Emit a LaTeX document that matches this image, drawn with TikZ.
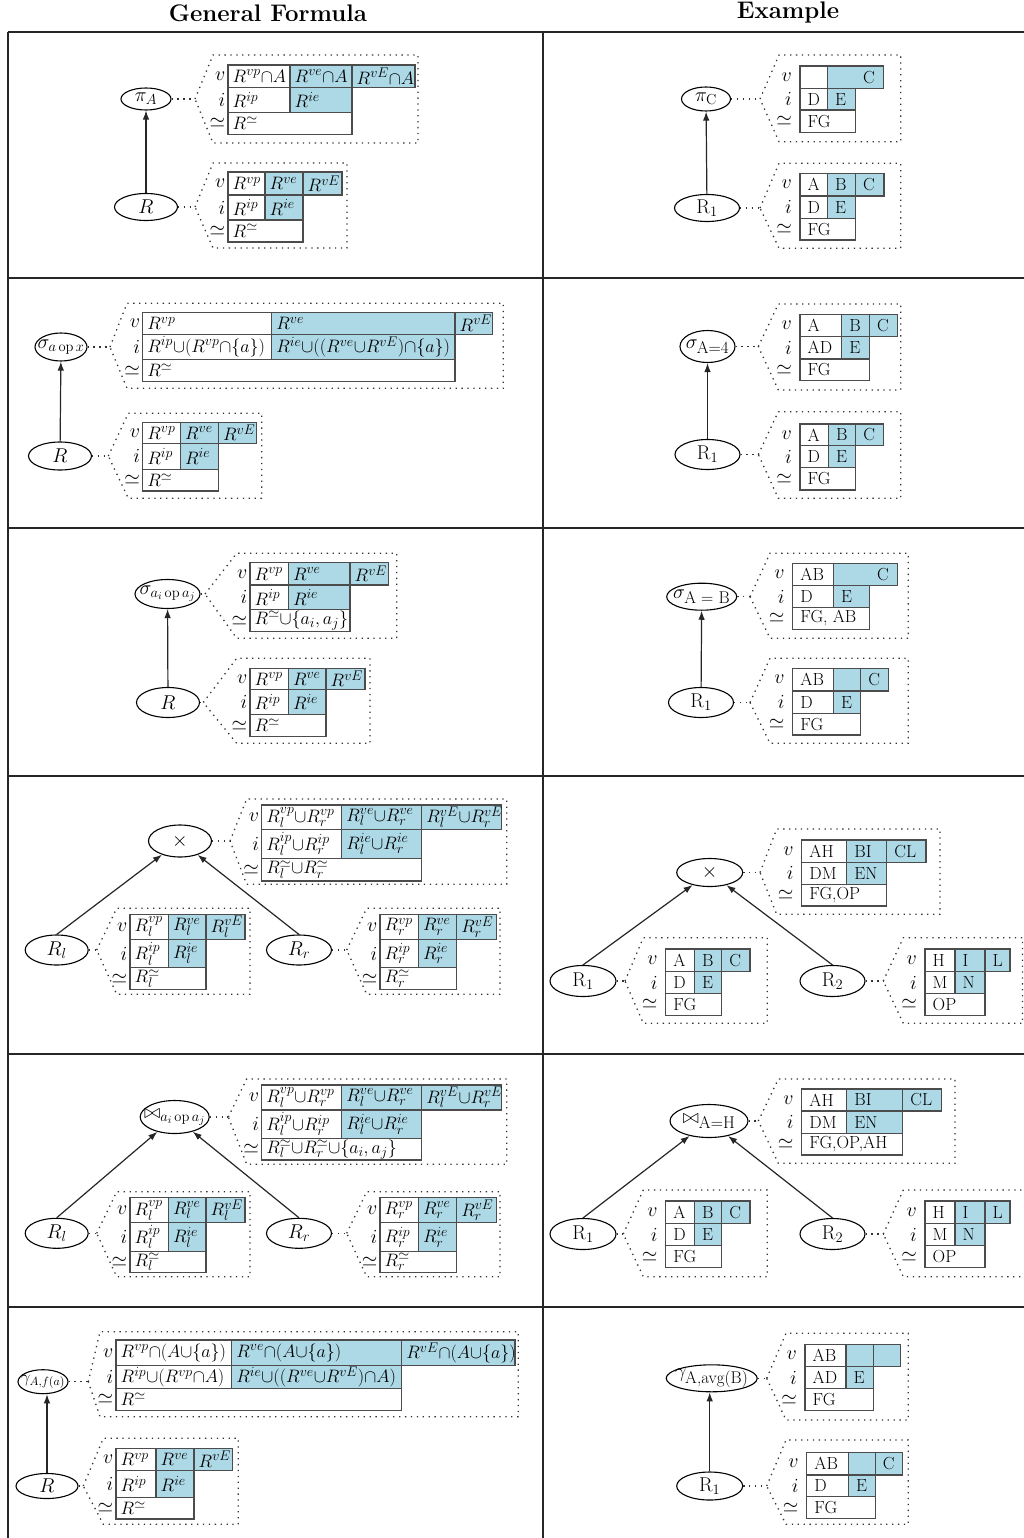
\RequirePackage{fix-cm}
\documentclass[tikz,border=0pt]{standalone}
\usetikzlibrary{shapes.geometric,arrows.meta}
\definecolor{cellblue}{RGB}{173,216,230}
\DeclareMathSizes{20}{20}{14.5}{10.5}
\DeclareMathSizes{18}{18}{14}{10}
\newcommand{\ucup}{{\cup}}
\newcommand{\ucap}{{\cap}}
\newcommand{\esub}[1]{\mbox{\fontsize{17}{20}\selectfont #1}}
\def\cellfont{\fontsize{18}{22}\selectfont}
\def\labfont{\fontsize{20}{24}\selectfont}
\def\nodefont{\fontsize{20}{24}\selectfont}
\def\cpad{4.5}
\def\lgap{2.5}
\newcommand{\tabgeom}[9]{%
  \def\tabpre{#1}%
  \pgfmathsetmacro\cxA{#2}\pgfmathsetmacro\cyA{#3}%
  \pgfmathsetmacro\cxB{#2+#4}\pgfmathsetmacro\cxC{\cxB+#5}\pgfmathsetmacro\cxD{\cxC+#6}%
  \pgfmathsetmacro\cyB{#3+#7}\pgfmathsetmacro\cyC{\cyB+#8}\pgfmathsetmacro\cyD{\cyC+#9}%
  \pgfmathsetmacro\cmA{(\cyA+\cyB)/2}\pgfmathsetmacro\cmB{(\cyB+\cyC)/2}\pgfmathsetmacro\cmC{(\cyC+\cyD)/2}%
}
\newcommand{\tabfill}[7][0]{%
  \fill[cellblue] (\cxB,\cyA) rectangle (\cxD,\cyB);
  \fill[cellblue] (\cxB,\cyB) rectangle (\cxC,\cyC);
  \draw[cellline] (\cxA,\cyA) rectangle (\cxB,\cyB);
  \ifnum#1=0
    \draw[cellline] (\cxB,\cyA) rectangle (\cxC,\cyB);
    \draw[cellline] (\cxC,\cyA) rectangle (\cxD,\cyB);
  \else
    \draw[cellline] (\cxB,\cyA) rectangle (\cxD,\cyB);
  \fi
  \draw[cellline] (\cxA,\cyB) rectangle (\cxB,\cyC);
  \draw[cellline] (\cxB,\cyB) rectangle (\cxC,\cyC);
  \draw[cellline] (\cxA,\cyC) rectangle (\cxC,\cyD);
  \node[celltext] (\tabpre-vp) at (\cxA+\cpad,\cmA) {#2};
  \node[celltext] (\tabpre-ve) at (\cxB+\cpad,\cmA) {#3};
  \node[celltext] (\tabpre-vE) at (\cxC+\cpad,\cmA) {#4};
  \node[celltext] (\tabpre-ip) at (\cxA+\cpad,\cmB) {#5};
  \node[celltext] (\tabpre-ie) at (\cxB+\cpad,\cmB) {#6};
  \node[celltext] (\tabpre-sm) at (\cxA+\cpad,\cmC) {#7};
  \node[labtext] (\tabpre-lv) at (\cxA-\lgap,\cmA) {$v$};
  \node[labtext] (\tabpre-li) at (\cxA-\lgap,\cmB) {$i$};
  \node[labtext] (\tabpre-ls) at (\cxA-\lgap,\cmC) {$\simeq$};
}
\newcommand{\mkcallout}[8]{%
  \coordinate (#1) at (#3,#4);
  \draw[dotline] (#2.east) -- (#1);
  \draw[dotline] (#1) -- (#5,#6) -- (#7,#6) -- (#7,#8) -- (#5,#8) -- cycle;
}
\newcommand{\opnd}[5]{%
  \node[opnode, minimum width=#4pt, minimum height=#5pt] (#1) at (#2) {};
  \node[optext] (#1-t) at (#1) {#3};
}
\tikzset{
  frame/.style={line width=2.8pt, draw=black!85},
  opnode/.style={ellipse, draw=black, line width=1.1pt, inner sep=0pt},
  optext/.style={inner sep=0pt, font=\nodefont},
  conn/.style={-{Latex[length=9pt,width=6.5pt]}, line width=1.2pt, draw=black!85},
  dotline/.style={line width=1.3pt, dash pattern=on 1.3pt off 4.6pt, draw=black!80},
  cellline/.style={line width=1.2pt, draw=black!70},
  celltext/.style={anchor=west, inner sep=0pt, font=\cellfont},
  labtext/.style={anchor=east, inner sep=0pt, font=\labfont},
  head/.style={inner sep=0pt, font=\fontsize{24}{28}\selectfont\bfseries}
}
\begin{document}
\begin{tikzpicture}[x=1pt,y=-1pt]
\useasboundingbox (0,0) rectangle (1024,1538);
\fill[white] (0,0) rectangle (1024,1538);
% headers
\node[head] (hg) at (268,13) {General Formula};
\node[head] (he) at (788,13) {Example};
% frame
\draw[frame] (8,32) -- (1030,32);
\draw[frame] (8,32) -- (8,1545);
\draw[frame] (543,32) -- (543,1545);
\foreach \yy in {278,528,776,1054,1307} {\draw[frame] (8,\yy) -- (1030,\yy);}

%%%%%%%% GENERAL COLUMN
\def\cellfont{\fontsize{18}{22}\selectfont}
\def\cpad{4.5}\def\lgap{2.5}
% Row 1
\opnd{gpA}{146,99}{$\pi_A$}{50}{22}
\opnd{gR1}{146,207}{$R$}{63}{27}
\draw[conn] (gR1) -- (gpA);
\mkcallout{gc1t}{gpA}{195}{99}{213}{55}{418}{143}
\mkcallout{gc1b}{gR1}{195}{207}{213}{163}{347}{248}
\tabgeom{g1t}{228}{65}{62}{62}{63}{22.3}{25}{22}
\tabfill{$R^{vp}\ucap A$}{$R^{ve}\ucap A$}{$R^{vE}\ucap A$}{$R^{ip}$}{$R^{ie}$}{$R^{\simeq}$}
\tabgeom{g1b}{228}{172}{37}{38}{39}{23}{25}{22}
\tabfill{$R^{vp}$}{$R^{ve}$}{$R^{vE}$}{$R^{ip}$}{$R^{ie}$}{$R^{\simeq}$}
% Row 2
\opnd{gs2}{61,347}{$\sigma_{a\,\mathrm{op}\,x}$}{52}{28}
\opnd{gR2}{60,456}{$R$}{63}{28}
\draw[conn] (gR2) -- (gs2);
\mkcallout{gc2t}{gs2}{110}{347}{127}{303.3}{503.3}{388.3}
\mkcallout{gc2b}{gR2}{108.3}{456}{128.3}{413.3}{261.7}{498.3}
\tabgeom{g2t}{142.7}{312.3}{129}{183.3}{37.7}{22}{25}{22.3}
\tabfill{$R^{vp}$}{$R^{ve}$}{$R^{vE}$}{$R^{ip}\ucup(R^{vp}\ucap\{a\})$}{$R^{ie}\ucup((R^{ve}\ucup R^{vE})\ucap\{a\})$}{$R^{\simeq}$}
\tabgeom{g2b}{142.7}{422.3}{37.7}{38}{37.7}{21}{26}{21.7}
\tabfill{$R^{vp}$}{$R^{ve}$}{$R^{vE}$}{$R^{ip}$}{$R^{ie}$}{$R^{\simeq}$}
% Row 3
\opnd{gs3}{167.5,594}{$\sigma_{a_i\,\mathrm{op}\,a_j}$}{65}{29}
\opnd{gR3}{168,702.5}{$R$}{63}{30}
\draw[conn] (gR3) -- (gs3);
\mkcallout{gc3t}{gs3}{205}{594}{236.7}{553.3}{396.7}{638.3}
\mkcallout{gc3b}{gR3}{203.3}{702.5}{236.7}{658.3}{370}{743.3}
\tabgeom{g3t}{250}{562.7}{38.3}{61.7}{38.3}{22.3}{24.3}{22.3}
\tabfill{$R^{vp}$}{$R^{ve}$}{$R^{vE}$}{$R^{ip}$}{$R^{ie}$}{$R^{\simeq}\ucup\{a_i,a_j\}$}
\tabgeom{g3b}{250}{668.3}{38.3}{37.7}{39}{21}{25}{22.3}
\tabfill{$R^{vp}$}{$R^{ve}$}{$R^{vE}$}{$R^{ip}$}{$R^{ie}$}{$R^{\simeq}$}
% Row 4
\opnd{gx4}{180,841}{$\times$}{63}{32}
\opnd{gRl4}{56.7,950}{$R_l$}{63}{30}
\opnd{gRr4}{299,950}{$R_r$}{65}{30}
\draw[conn] (gRl4.north) -- (gx4);
\draw[conn] (gRr4.north) -- (gx4);
\mkcallout{gc4t}{gx4}{230}{841}{246.7}{799}{506.7}{884.3}
\mkcallout{gc4l}{gRl4}{96.7}{950}{116.7}{908.3}{250}{994.3}
\mkcallout{gc4r}{gRr4}{346.7}{950}{366.7}{908.3}{500}{994.3}
\tabgeom{g4t}{261.7}{805}{80}{80}{80}{24.3}{29}{22.7}
\tabfill{$R_l^{vp}\ucup R_r^{vp}$}{$R_l^{ve}\ucup R_r^{ve}$}{$R_l^{vE}\ucup R_r^{vE}$}{$R_l^{ip}\ucup R_r^{ip}$}{$R_l^{ie}\ucup R_r^{ie}$}{$R_l^{\simeq}\ucup R_r^{\simeq}$}
\tabgeom{g4l}{130}{914.3}{38.3}{37.7}{39}{25}{28.3}{21.7}
\tabfill{$R_l^{vp}$}{$R_l^{ve}$}{$R_l^{vE}$}{$R_l^{ip}$}{$R_l^{ie}$}{$R_l^{\simeq}$}
\tabgeom{g4r}{380}{914.3}{38.3}{38.3}{40}{25}{28.3}{21.7}
\tabfill{$R_r^{vp}$}{$R_r^{ve}$}{$R_r^{vE}$}{$R_r^{ip}$}{$R_r^{ie}$}{$R_r^{\simeq}$}
% Row 5
\opnd{gj5}{174.7,1117}{$\bowtie_{a_i\,\mathrm{op}\,a_j}$}{69}{33}
\opnd{gRl5}{56.7,1233.3}{$R_l$}{63}{30}
\opnd{gRr5}{299,1233.3}{$R_r$}{65}{30}
\draw[conn] (gRl5.north) -- (gj5);
\draw[conn] (gRr5.north) -- (gj5);
\mkcallout{gc5t}{gj5}{228.3}{1117}{246.7}{1079}{506.7}{1164.3}
\mkcallout{gc5l}{gRl5}{96.7}{1233.3}{116.7}{1191.7}{250}{1276.7}
\mkcallout{gc5r}{gRr5}{346.7}{1233.3}{366.7}{1191.7}{500}{1276.7}
\tabgeom{g5t}{261.7}{1085}{80}{80}{80}{25}{28.3}{21.7}
\tabfill{$R_l^{vp}\ucup R_r^{vp}$}{$R_l^{ve}\ucup R_r^{ve}$}{$R_l^{vE}\ucup R_r^{vE}$}{$R_l^{ip}\ucup R_r^{ip}$}{$R_l^{ie}\ucup R_r^{ie}$}{$R_l^{\simeq}\ucup R_r^{\simeq}\ucup\{a_i,a_j\}$}
\tabgeom{g5l}{130}{1197.7}{38.3}{37.7}{39}{25}{29}{20.7}
\tabfill{$R_l^{vp}$}{$R_l^{ve}$}{$R_l^{vE}$}{$R_l^{ip}$}{$R_l^{ie}$}{$R_l^{\simeq}$}
\tabgeom{g5r}{380}{1197.7}{38.3}{38.3}{40}{25}{29}{20.7}
\tabfill{$R_r^{vp}$}{$R_r^{ve}$}{$R_r^{vE}$}{$R_r^{ip}$}{$R_r^{ie}$}{$R_r^{\simeq}$}
% Row 6
\opnd{gg6}{43,1381.7}{\fontsize{17}{20}\selectfont$\gamma_{A,f(a)}$}{50}{24}
\opnd{gR6}{47,1486}{$R$}{62}{25}
\draw[conn] (gR6.north) -- (gR6.north |- gg6.south);
\mkcallout{gc6t}{gg6}{88.3}{1381.7}{100}{1331.7}{518.3}{1416.7}
\mkcallout{gc6b}{gR6}{83.3}{1486}{103.3}{1438.3}{238.3}{1524.3}
\tabgeom{g6t}{116}{1340}{115.7}{170}{113.3}{25.7}{22.7}{21.7}
\tabfill{$R^{vp}\ucap(A\ucup\{a\})$}{$R^{ve}\ucap(A\ucup\{a\})$}{$R^{vE}\ucap(A\ucup\{a\})$}{$R^{ip}\ucup(R^{vp}\ucap A)$}{$R^{ie}\ucup((R^{ve}\ucup R^{vE})\ucap A)$}{$R^{\simeq}$}
\tabgeom{g6b}{116}{1448.3}{40}{38}{38.3}{22.3}{27}{21.3}
\tabfill{$R^{vp}$}{$R^{ve}$}{$R^{vE}$}{$R^{ip}$}{$R^{ie}$}{$R^{\simeq}$}

%%%%%%%% EXAMPLE COLUMN
\def\cellfont{\fontsize{17.5}{21}\selectfont}
\def\cpad{7.5}\def\lgap{8}
% Row 1
\opnd{epC}{706,99}{$\pi_{\mathrm{C}}$}{49}{24}
\opnd{eR1}{707,208}{$\mathrm{R}_1$}{65}{27}
\draw[conn] (eR1) -- (epC);
\mkcallout{ec1t}{epC}{760}{99}{779}{55}{900.7}{141.7}
\mkcallout{ec1b}{eR1}{760}{208}{779}{163.3}{900.7}{248.3}
\tabgeom{e1t}{800}{66}{27.3}{28}{28}{22.3}{21.7}{22.3}
\tabfill[1]{}{}{C}{D}{E}{FG}
\tabgeom{e1b}{800}{173.3}{27.3}{28}{28.7}{22.7}{22.3}{21.7}
\tabfill{A}{B}{C}{D}{E}{FG}
% Row 2
\opnd{es2}{707.5,346.5}{$\sigma_{\esub{A=4}}$}{55}{32}
\opnd{eR2}{707.5,454.5}{$\mathrm{R}_1$}{65}{30}
\draw[conn] (eR2) -- (es2);
\mkcallout{ec2t}{es2}{758.3}{346.5}{778.3}{304}{900.7}{390}
\mkcallout{ec2b}{eR2}{758.3}{454.5}{778.3}{411.7}{900.7}{498.3}
\tabgeom{e2t}{800}{314.3}{41.7}{27.7}{28}{22.3}{22.3}{21.7}
\tabfill{A}{B}{C}{AD}{E}{FG}
\tabgeom{e2b}{800}{424}{28.3}{27.3}{27.7}{21.7}{22}{22.3}
\tabfill{A}{B}{C}{D}{E}{FG}
% Row 3
\opnd{es3}{701.7,596.7}{$\sigma_{\esub{A = B}}$}{70}{27}
\opnd{eR3}{701,702.5}{$\mathrm{R}_1$}{65}{30}
\draw[conn] (eR3) -- (es3);
\mkcallout{ec3t}{es3}{750}{596.7}{770}{553.3}{908.3}{638.3}
\mkcallout{ec3b}{eR3}{750}{702.5}{770}{658.3}{908.3}{743.3}
\tabgeom{e3t}{792.7}{563.3}{40.7}{36}{28}{22.3}{21.7}{22}
\tabfill[1]{AB}{}{C}{D}{E}{FG, AB}
\tabgeom{e3b}{792.7}{668.3}{40.7}{27.3}{27.7}{22.7}{22.3}{21.7}
\tabfill{AB}{}{C}{D}{E}{FG}
% Row 4
\opnd{ex4}{709.7,872.5}{$\times$}{66}{28}
\opnd{eRa4}{583,981}{$\mathrm{R}_1$}{66}{31}
\opnd{eRb4}{832.5,981}{$\mathrm{R}_2$}{65}{31}
\draw[conn] (eRa4.north) -- (ex4);
\draw[conn] (eRb4.north) -- (ex4);
\mkcallout{ec4t}{ex4}{760}{872.5}{776.7}{829}{940}{914.3}
\mkcallout{ec4l}{eRa4}{625}{981}{643.3}{937.7}{767.3}{1023.3}
\mkcallout{ec4r}{eRb4}{883.3}{981}{903.3}{937.7}{1022.5}{1023.3}
\tabgeom{e4t}{801.7}{840}{45}{40}{39.3}{22.3}{22}{21.7}
\tabfill{AH}{BI}{CL}{DM}{EN}{FG,OP}
\tabgeom{e4l}{665.7}{949}{28.7}{27.3}{28.3}{22.7}{21.7}{21.7}
\tabfill{A}{B}{C}{D}{E}{FG}
\tabgeom{e4r}{925}{949}{30}{30}{25}{22.7}{21.7}{21.7}
\tabfill{H}{I}{L}{M}{N}{OP}
% Row 5
\opnd{ej5}{709,1121}{$\bowtie_{\esub{A=H}}$}{78}{33}
\opnd{eRa5}{583,1234}{$\mathrm{R}_1$}{66}{31}
\opnd{eRb5}{832.5,1234}{$\mathrm{R}_2$}{65}{31}
\draw[conn] (eRa5.north) -- (ej5);
\draw[conn] (eRb5.north) -- (ej5);
\mkcallout{ec5t}{ej5}{758.3}{1121}{778.3}{1079}{955}{1163.3}
\mkcallout{ec5l}{eRa5}{623.3}{1234}{643.3}{1190}{767.3}{1276.7}
\mkcallout{ec5r}{eRb5}{883.3}{1234}{903.3}{1190}{1030}{1276.7}
\tabgeom{e5t}{801.7}{1089}{45}{56}{39}{22}{22.3}{21.7}
\tabfill{AH}{BI}{CL}{DM}{EN}{FG,OP,AH}
\tabgeom{e5l}{665.7}{1201}{28.7}{27.3}{28.3}{22.3}{22.3}{22}
\tabfill{A}{B}{C}{D}{E}{FG}
\tabgeom{e5r}{925}{1201}{30}{30}{25}{22.3}{22.3}{22}
\tabfill{H}{I}{L}{M}{N}{OP}
% Row 6
\opnd{eg6}{711.7,1378.3}{$\gamma_{\esub{A,avg(B)}}$}{91}{27}
\opnd{eR6}{709.7,1486}{$\mathrm{R}_1$}{66}{28}
\draw[conn] (eR6.north) -- (eR6.north |- eg6.south);
\mkcallout{ec6t}{eg6}{766.7}{1378.3}{786}{1333.3}{908.3}{1420}
\mkcallout{ec6b}{eR6}{766.7}{1486}{786}{1440}{908.3}{1524.3}
\tabgeom{e6t}{805}{1344.3}{41}{27.3}{27.3}{22.3}{21.7}{22.3}
\tabfill{AB}{}{}{AD}{E}{FG}
\tabgeom{e6b}{806.7}{1452.3}{41.7}{26.7}{27.7}{22.7}{21.7}{21.7}
\tabfill{AB}{}{C}{D}{E}{FG}
\end{tikzpicture}
\end{document}
